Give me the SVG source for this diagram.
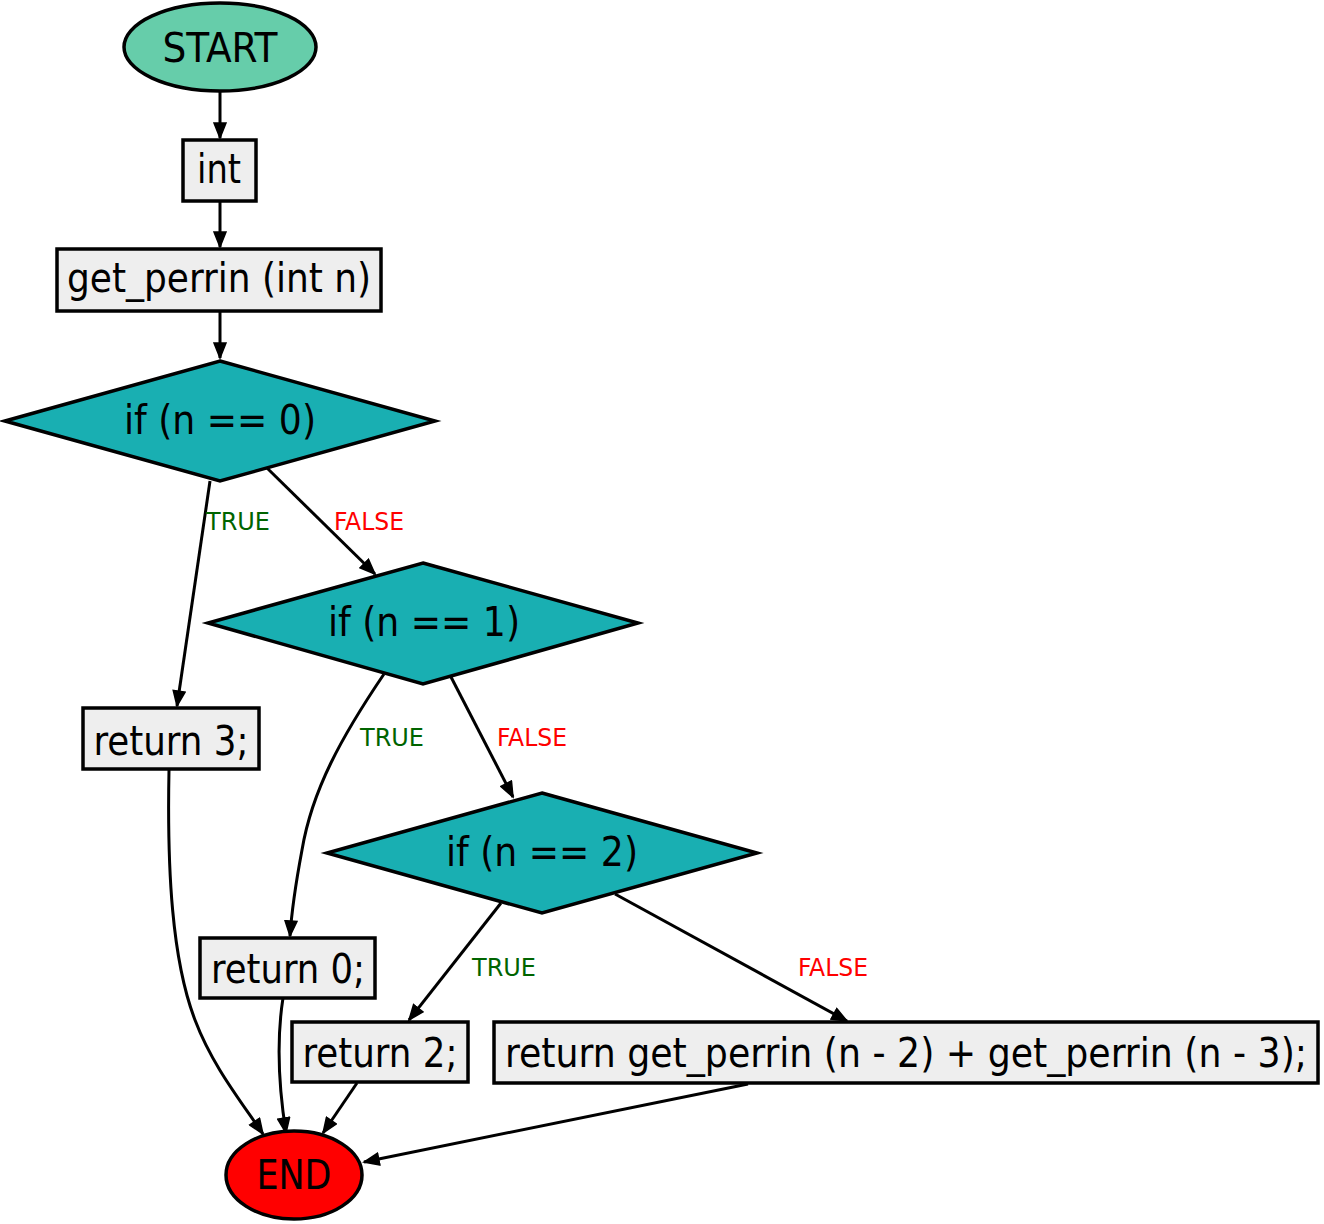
<svg xmlns="http://www.w3.org/2000/svg" width="1324" height="1224" viewBox="0 0 1324 1224">
<style>
.n{stroke:#000;stroke-width:3.5}
.box{fill:#eeeeee}
.dia{fill:#19afb2}
.t{font-family:"DejaVu Sans Condensed","DejaVu Sans",sans-serif;font-size:40px;fill:#000;text-anchor:middle}
.lb{font-family:"DejaVu Sans Condensed","DejaVu Sans",sans-serif;font-size:24px;text-anchor:middle}
.tr{fill:#006400}
.fa{fill:#ff0000}
.e{fill:none;stroke:#000;stroke-width:3}
</style>
<defs>
<marker id="ah" markerUnits="userSpaceOnUse" markerWidth="18" markerHeight="14" refX="16" refY="7" orient="auto" viewBox="0 0 18 14">
<path d="M1,1 L16,7 L1,13 z" fill="#000" stroke="#000" stroke-width="1.5"/>
</marker>
</defs>
<rect width="1324" height="1224" fill="#fff"/>
<g id="connectors">
<path class="e" d="M220,91 L220,138" marker-end="url(#ah)"/>
<path class="e" d="M220,201 L220,247" marker-end="url(#ah)"/>
<path class="e" d="M220,311 L220,358" marker-end="url(#ah)"/>
<path class="e" d="M210,481 L177,706" marker-end="url(#ah)"/>
<path class="e" d="M267,468 L375,574" marker-end="url(#ah)"/>
<path class="e" d="M384,674 C342,736 312,790 302,850 C296,882 292,906 290,936" marker-end="url(#ah)"/>
<path class="e" d="M451,677 L513,797" marker-end="url(#ah)"/>
<path class="e" d="M501,903 L409,1020" marker-end="url(#ah)"/>
<path class="e" d="M615,894 L847,1021" marker-end="url(#ah)"/>
<path class="e" d="M169,770 C167,870 172,960 195,1020 C212,1065 240,1100 263,1134" marker-end="url(#ah)"/>
<path class="e" d="M283,998 C278,1030 276,1070 286,1133" marker-end="url(#ah)"/>
<path class="e" d="M357,1083 L323,1133" marker-end="url(#ah)"/>
<path class="e" d="M748,1084 L364,1162" marker-end="url(#ah)"/>
<text class="lb tr" x="238" y="530" textLength="64" lengthAdjust="spacingAndGlyphs">TRUE</text>
<text class="lb fa" x="369" y="530" textLength="70" lengthAdjust="spacingAndGlyphs">FALSE</text>
<text class="lb tr" x="392" y="746" textLength="64" lengthAdjust="spacingAndGlyphs">TRUE</text>
<text class="lb fa" x="532" y="746" textLength="70" lengthAdjust="spacingAndGlyphs">FALSE</text>
<text class="lb tr" x="504" y="976" textLength="64" lengthAdjust="spacingAndGlyphs">TRUE</text>
<text class="lb fa" x="833" y="976" textLength="70" lengthAdjust="spacingAndGlyphs">FALSE</text>
</g>
<g id="start">
<ellipse class="n" cx="220" cy="47" rx="96" ry="44" fill="#66cdaa"/>
<text class="t" x="220" y="62" textLength="115" lengthAdjust="spacingAndGlyphs">START</text>
</g>
<g id="int">
<rect class="n box" x="183" y="140" width="73" height="61"/>
<text class="t" x="219" y="183" textLength="44" lengthAdjust="spacingAndGlyphs">int</text>
</g>
<g id="func">
<rect class="n box" x="57" y="249" width="324" height="62"/>
<text class="t" x="219" y="292" textLength="304" lengthAdjust="spacingAndGlyphs">get_perrin (int n)</text>
</g>
<g id="if0">
<polygon class="n dia" points="220,361 435,421 220,481 5,421"/>
<text class="t" x="220" y="434" textLength="192" lengthAdjust="spacingAndGlyphs">if (n == 0)</text>
</g>
<g id="if1">
<polygon class="n dia" points="423,563 638,623 423,684 208,623"/>
<text class="t" x="424" y="636" textLength="192" lengthAdjust="spacingAndGlyphs">if (n == 1)</text>
</g>
<g id="if2">
<polygon class="n dia" points="542,793 757,853 542,913 327,853"/>
<text class="t" x="542" y="866" textLength="192" lengthAdjust="spacingAndGlyphs">if (n == 2)</text>
</g>
<g id="ret3">
<rect class="n box" x="83" y="708" width="176" height="61"/>
<text class="t" x="171" y="755" textLength="155" lengthAdjust="spacingAndGlyphs">return 3;</text>
</g>
<g id="ret0">
<rect class="n box" x="200" y="938" width="175" height="60"/>
<text class="t" x="288" y="983" textLength="154" lengthAdjust="spacingAndGlyphs">return 0;</text>
</g>
<g id="ret2">
<rect class="n box" x="292" y="1022" width="176" height="60"/>
<text class="t" x="380" y="1067" textLength="155" lengthAdjust="spacingAndGlyphs">return 2;</text>
</g>
<g id="retrec">
<rect class="n box" x="494" y="1022" width="824" height="61"/>
<text class="t" x="906" y="1067" textLength="802" lengthAdjust="spacingAndGlyphs">return get_perrin (n - 2) + get_perrin (n - 3);</text>
</g>
<g id="end">
<ellipse class="n" cx="294" cy="1175" rx="68" ry="44" fill="#ff0000"/>
<text class="t" x="294" y="1189" textLength="75" lengthAdjust="spacingAndGlyphs">END</text>
</g>
</svg>
